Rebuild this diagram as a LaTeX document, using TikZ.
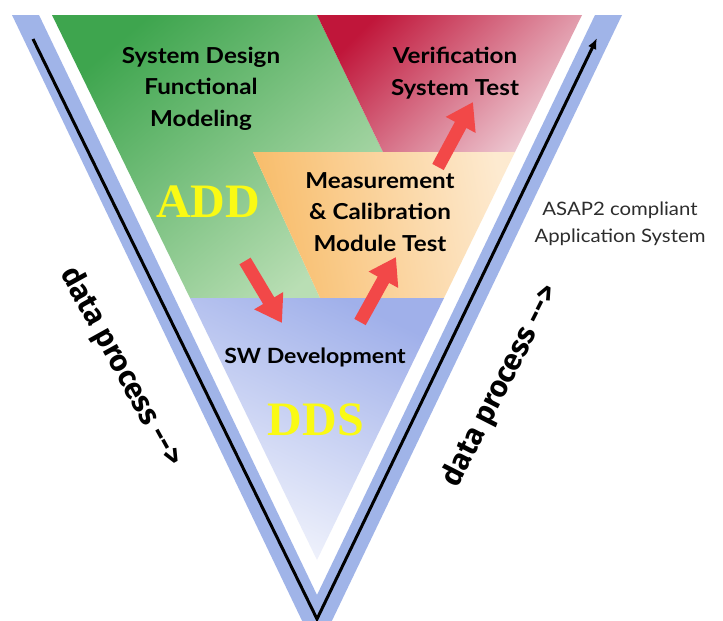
\documentclass[tikz,border=0pt]{standalone}
\usepackage{fontspec}
\setmainfont{Lato}
\newfontfamily\phasefont[FakeStretch=1.1]{Lato}
\newfontfamily\bigserif{Liberation Serif}
\newfontfamily\procfont{Fira Sans}
\usetikzlibrary{arrows.meta}

\definecolor{bandblue}{RGB}{160,180,232}
\definecolor{greenA}{RGB}{62,165,78}
\definecolor{greenB}{RGB}{185,222,180}
\definecolor{redA}{RGB}{192,22,58}
\definecolor{redB}{RGB}{238,205,214}
\definecolor{orangeA}{RGB}{248,188,105}
\definecolor{orangeB}{RGB}{253,234,208}
\definecolor{blueA}{RGB}{160,176,234}
\definecolor{blueB}{RGB}{242,244,252}
\definecolor{arrowred}{RGB}{242,72,72}
\definecolor{addyellow}{RGB}{250,250,20}
\definecolor{asaptext}{RGB}{45,45,45}

\tikzset{
  redarrow/.style={draw=arrowred, line width=13pt, -{Triangle[length=26pt,width=32pt]}},
  phasetext/.style={font=\phasefont\fontsize{22}{31.5}\selectfont\bfseries, text=black, align=center, inner sep=0pt},
  bigtext/.style={font=\bigserif\bfseries\fontsize{48}{50}\selectfont, text=addyellow, inner sep=0pt},
  proctext/.style={font=\procfont\bfseries\fontsize{30}{32}\selectfont, inner sep=0pt},
  asaptext/.style={font=\phasefont\fontsize{18.5}{27}\selectfont, text=asaptext, align=center, inner sep=0pt}
}

\begin{document}
\begin{tikzpicture}[x=1pt,y=-1pt]
\useasboundingbox (0,0) rectangle (723,621);
\fill[white] (0,0) rectangle (723,621);

% blue band of the V
\fill[bandblue] (12,15) -- (39,15) -- (317,595) -- (595,15) -- (622,15) -- (317,652) -- cycle;

% regions of the inner triangle
\shade[top color=greenA, bottom color=greenB, shading angle=40]
  (52,15) -- (317,15) -- (383,152) -- (253,152) -- (320,298) -- (190,298) -- cycle;
\shade[top color=redA, bottom color=redB, shading angle=45]
  (317,15) -- (582,15) -- (515,152) -- (383,152) -- cycle;
\shade[left color=orangeA, right color=orangeB, shading angle=100]
  (253,152) -- (515,152) -- (444,298) -- (320,298) -- cycle;
\shade[top color=blueA, bottom color=blueB, shading angle=-25]
  (190,298) -- (444,298) -- (317,560) -- cycle;

% black process line
\coordinate (lt) at (33,39);
\coordinate (ap) at (317,619);
\coordinate (rt) at (597,38);
\draw[line width=3pt, -{Latex[length=11pt,width=9pt]}] (lt) -- (ap) -- (rt);

% red arrows
\coordinate (a1s) at (245,261); \coordinate (a1e) at (282,323);
\coordinate (a2s) at (360,322); \coordinate (a2e) at (396,257);
\coordinate (a3s) at (438,167); \coordinate (a3e) at (473,102);
\draw[redarrow] (a1s) -- (a1e);
\draw[redarrow] (a2s) -- (a2e);
\draw[redarrow] (a3s) -- (a3e);

% texts (anchor=base of a multi-line node is the last line's baseline)
\node[phasetext, anchor=base] (sys) at (201,126) {System Design\\Functional\\Modeling};
\node[phasetext, anchor=base] (ver) at (455,95) {Verification\\System Test};
\node[phasetext, anchor=base] (mc) at (380,251) {Measurement\\\& Calibration\\Module Test};
\node[phasetext, anchor=base, font=\phasefont\bfseries\fontsize{21}{26}\selectfont] (sw) at (315,363) {SW Development};
\node[bigtext, anchor=base] (add) at (208,217) {ADD};
\node[bigtext, anchor=base] (dds) at (316,435) {DDS};
\node[asaptext, anchor=base] (asap) at (620,242) {ASAP2 compliant\\Application System};
\node[proctext, rotate=-61] (dpl) at (121,367) {data process -{}->};
\node[proctext, rotate=63] (dpr) at (501,386) {data process -{}->};
\end{tikzpicture}
\end{document}
